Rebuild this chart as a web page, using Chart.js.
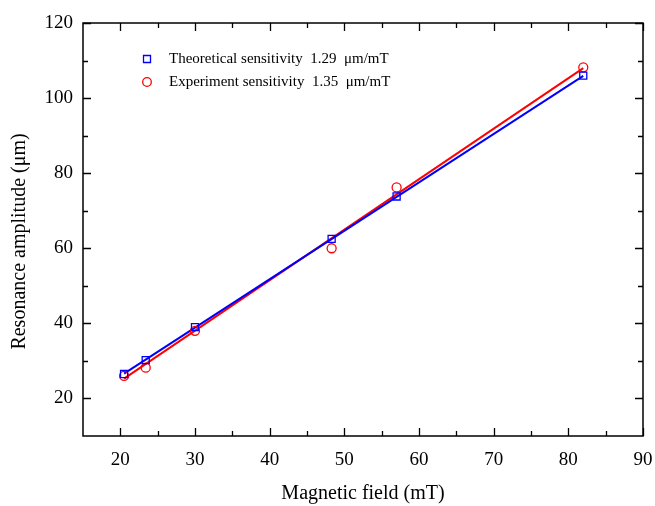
<!DOCTYPE html>
<html>
<head>
<meta charset="utf-8">
<script src="https://cdn.jsdelivr.net/npm/chart.js@4.4.1/dist/chart.umd.min.js"></script>
<style>
  html, body { margin: 0; padding: 0; background: #fff; }
  #wrap { width: 655px; height: 506px; }
</style>
</head>
<body>
<div id="wrap"><canvas id="chart"></canvas></div>
<script>
// Du lieu doc tu hinh
const fieldX = [20.5, 23.4, 30, 48.3, 57, 82];
const theoY = [26.5, 30.2, 39, 62.5, 73.8, 106];
const expY = [26, 28.2, 38, 60, 76.2, 108.2];

// Duong fit (hai dau mut doc tu hinh)
const theoFitX = [20.5, 82];
const theoFitY = [26.6, 105.9];
const expFitX = [20.5, 82];
const expFitY = [25.3, 108];

// Vach chia truc
const xMajor = [20, 30, 40, 50, 60, 70, 80, 90];
const xMinor = [25, 35, 45, 55, 65, 75, 85];
const yMajor = [20, 40, 60, 80, 100, 120];
const yMinor = [30, 50, 70, 90, 110];

const theoLabel = "Theoretical sensitivity  1.29  \u03bcm/mT";
const expLabel = "Experiment sensitivity  1.35  \u03bcm/mT";
const yTitle = "Resonance amplitude (\u03bcm)";

const serif = "'Liberation Serif', 'Times New Roman', serif";

function pts(xs, ys) {
  return xs.map((x, i) => ({ x: x, y: ys[i] }));
}

// Ve khung va vach chia huong vao trong
const frameTicks = {
  id: "frameTicks",
  afterDraw(chart) {
    const c = chart.ctx;
    const a = chart.chartArea;
    const sx = chart.scales.x, sy = chart.scales.y;
    c.save();
    c.strokeStyle = "#000";
    c.lineWidth = 1.5;
    c.strokeRect(a.left, a.top, a.right - a.left, a.bottom - a.top);
    c.lineWidth = 1.3;
    c.beginPath();
    const tickX = (vals, len) => vals.forEach(v => {
      const p = Math.round(sx.getPixelForValue(v)) + 0.5;
      c.moveTo(p, a.bottom); c.lineTo(p, a.bottom - len);
      c.moveTo(p, a.top); c.lineTo(p, a.top + len);
    });
    const tickY = (vals, len) => vals.forEach(v => {
      const p = Math.round(sy.getPixelForValue(v)) + 0.5;
      c.moveTo(a.left, p); c.lineTo(a.left + len, p);
      c.moveTo(a.right, p); c.lineTo(a.right - len, p);
    });
    tickX(xMajor, 8); tickX(xMinor, 5);
    tickY(yMajor, 8); tickY(yMinor, 5);
    c.stroke();

    // Tieu de truc y
    c.fillStyle = "#000";
    c.font = "20px " + serif;
    c.textAlign = "center";
    c.textBaseline = "middle";
    c.translate(20, (a.top + a.bottom) / 2 + 12);
    c.rotate(-Math.PI / 2);
    c.fillText(yTitle, 0, 0);
    c.restore();
  }
};

// Chu thich ben trong vung ve
const innerLegend = {
  id: "innerLegend",
  afterDraw(chart) {
    const c = chart.ctx;
    const a = chart.chartArea;
    const rows = [chart.data.datasets[0], chart.data.datasets[1]];
    c.save();
    c.font = "15px " + serif;
    c.textBaseline = "middle";
    rows.forEach((ds, i) => {
      const mx = a.left + 64, my = a.top + 36 + i * 23;
      c.strokeStyle = ds.borderColor;
      c.lineWidth = 1.3;
      c.beginPath();
      if (ds.pointStyle === "rect") {
        c.rect(mx - 3.5, my - 3.5, 7, 7);
      } else {
        c.arc(mx, my, 4.3, 0, Math.PI * 2);
      }
      c.stroke();
      c.fillStyle = "#000";
      c.fillText(ds.label, mx + 22, my);
    });
    c.restore();
  }
};

new Chart(document.getElementById("chart"), {
  type: "scatter",
  data: {
    datasets: [
      {
        label: theoLabel,
        data: pts(fieldX, theoY),
        pointStyle: "rect",
        pointRadius: 5,
        pointBorderWidth: 1.3,
        borderColor: "#0000ff",
        backgroundColor: "rgba(0,0,0,0)",
        showLine: false
      },
      {
        label: expLabel,
        data: pts(fieldX, expY),
        pointStyle: "circle",
        pointRadius: 4.5,
        pointBorderWidth: 1.3,
        borderColor: "#ff0000",
        backgroundColor: "rgba(0,0,0,0)",
        showLine: false
      },
      {
        label: "theoFit",
        data: pts(theoFitX, theoFitY),
        showLine: true,
        pointRadius: 0,
        borderColor: "#0000ff",
        borderWidth: 2
      },
      {
        label: "expFit",
        data: pts(expFitX, expFitY),
        showLine: true,
        pointRadius: 0,
        borderColor: "#ff0000",
        borderWidth: 2
      }
    ]
  },
  options: {
    responsive: true,
    maintainAspectRatio: false,
    animation: false,
    layout: { padding: { top: 23, right: 12, left: 0, bottom: 0 } },
    plugins: {
      legend: { display: false },
      tooltip: { enabled: false }
    },
    scales: {
      x: {
        type: "linear",
        min: 15,
        max: 90,
        afterBuildTicks: s => { s.ticks = xMajor.map(v => ({ value: v })); },
        afterFit: s => { s.height = 70; s.paddingLeft = 0; s.paddingRight = 0; },
        grid: { display: false, drawTicks: false },
        border: { display: false },
        ticks: {
          autoSkip: false,
          maxRotation: 0,
          padding: 13,
          color: "#000",
          font: { family: serif, size: 19 }
        },
        title: {
          display: true,
          text: "Magnetic field (mT)",
          color: "#000",
          font: { family: serif, size: 20 },
          padding: { top: 0, bottom: 0 }
        }
      },
      y: {
        type: "linear",
        min: 10,
        max: 120,
        afterBuildTicks: s => { s.ticks = yMajor.map(v => ({ value: v })); },
        afterFit: s => { s.width = 83; s.paddingTop = 0; s.paddingBottom = 0; },
        grid: { display: false, drawTicks: false },
        border: { display: false },
        ticks: {
          autoSkip: false,
          padding: 10,
          color: "#000",
          font: { family: serif, size: 19 }
        },
        title: { display: false }
      }
    }
  },
  plugins: [frameTicks, innerLegend]
});
</script>
</body>
</html>
